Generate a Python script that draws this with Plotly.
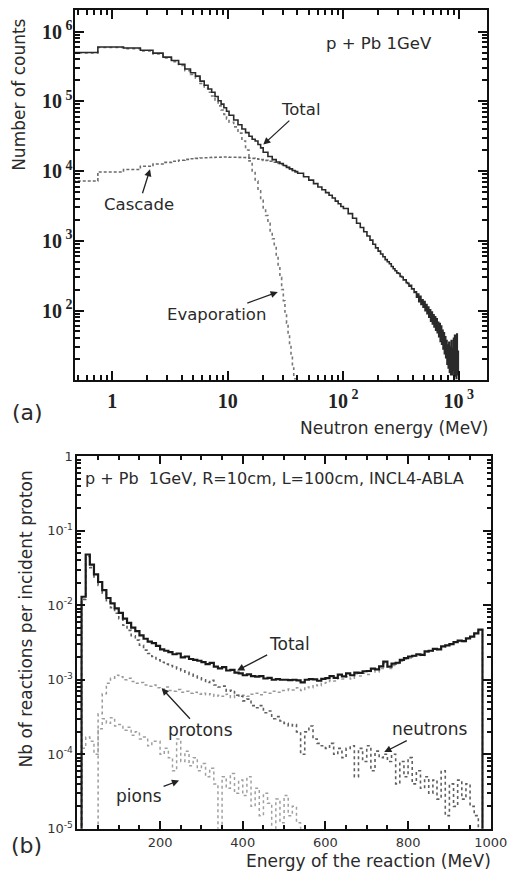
import numpy as np
import plotly.graph_objects as go

# ---------------- Panel (a): neutron energy spectrum ----------------
# histogram bin lower edges (MeV)
a_edges_total = np.concatenate([
    np.arange(0.25, 10.0, 0.5), np.arange(10.25, 20.0, 1.0), np.arange(20.25, 40.0, 2.0),
    np.arange(40.25, 100.0, 5.0), np.arange(100.25, 300.0, 10.0), np.arange(300.25, 1000.0, 10.0)])
a_last_total = 1000.25
a_total = [
    5.0e5, 6.0e5, 5.8e5, 5.4e5, 4.9e5, 4.3e5, 3.85e5, 3.4e5, 2.9e5, 2.57e5,
    2.3e5, 1.95e5, 1.7e5, 1.5e5, 1.35e5, 1.17e5, 1.02e5, 9.1e4, 8.1e4, 7.2e4,
    6.3e4, 5.4e4, 4.6e4, 4.0e4, 3.55e4, 3.16e4, 2.85e4, 2.7e4, 2.4e4, 2.15e4,
    1.86e4, 1.62e4, 1.46e4, 1.35e4, 1.28e4, 1.2e4, 1.13e4, 1.075e4, 1.02e4, 9.8e3,
    9.3e3, 8.3e3, 7.4e3, 6.6e3, 5.9e3, 5.4e3, 4.9e3, 4.5e3, 4.1e3, 3.7e3, 3.4e3, 3.1e3,
    2.9e3, 2.45e3, 2.1e3, 1.78e3, 1.55e3, 1.35e3, 1.17e3, 1.02e3, 890, 790,
    710, 645, 590, 537, 500, 468, 427, 398, 372, 347,
    339, 309, 302, 275, 275, 251, 245, 224, 229, 204,
    204, 182, 186, 155, 172, 134, 160, 122, 143, 112,
    134, 99, 122, 90, 112, 80, 102, 70, 95, 64,
    87, 58, 81, 52, 76, 48, 68, 42, 65, 36,
    60, 33, 52, 28, 48, 24, 42, 21, 37, 17,
    32, 15, 35, 13, 30, 12, 37, 12, 28, 14,
    40, 11.5, 44, 13, 34, 10.5, 46, 15, 26, 12]

a_edges_casc = np.concatenate([np.arange(0.25, 10.0, 0.5), np.arange(10.25, 20.0, 1.0),
                               np.arange(20.25, 40.0, 2.0)])
a_last_casc = 40.25
a_cascade = [
    7.2e3, 9.7e3, 1.05e4, 1.17e4, 1.26e4, 1.33e4, 1.38e4, 1.43e4, 1.47e4, 1.5e4,
    1.52e4, 1.54e4, 1.55e4, 1.56e4, 1.57e4, 1.58e4, 1.58e4, 1.59e4, 1.59e4, 1.59e4,
    1.58e4, 1.58e4, 1.57e4, 1.56e4, 1.55e4, 1.53e4, 1.52e4, 1.5e4, 1.48e4, 1.46e4,
    1.42e4, 1.38e4, 1.34e4, 1.29e4, 1.24e4, 1.18e4, 1.12e4, 1.07e4, 1.02e4, 9.8e3]

a_edges_evap = np.concatenate([np.arange(0.25, 10.0, 0.5), np.arange(10.25, 40.0, 1.0)])
a_last_evap = 40.25
a_evaporation = [
    4.93e5, 5.9e5, 5.7e5, 5.28e5, 4.77e5, 4.17e5, 3.71e5, 3.26e5, 2.75e5, 2.42e5,
    2.15e5, 1.8e5, 1.55e5, 1.35e5, 1.19e5, 1.01e5, 8.6e4, 7.5e4, 6.5e4, 5.6e4,
    5.0e4, 4.3e4, 3.5e4, 2.7e4, 2.0e4, 1.4e4, 1.0e4, 7.2e3, 5.2e3, 3.8e3,
    2.95e3, 2.3e3, 1.78e3, 1.38e3, 1.07e3, 830, 600, 430, 300, 200,
    138, 95, 66, 46, 32, 22, 15, 10.5, 7, 5]

a_xticks = [1, 10, 100, 1000]
a_xticktext = ["<b>1</b>", "<b>10</b>", "<b>10<sup> 2</sup></b>", "<b>10<sup> 3</sup></b>"]
a_yticks = [1e2, 1e3, 1e4, 1e5, 1e6]
a_yticktext = ["<b>10<sup> 2</sup></b>", "<b>10<sup> 3</sup></b>", "<b>10<sup> 4</sup></b>",
               "<b>10<sup> 5</sup></b>", "<b>10<sup> 6</sup></b>"]

# ---------------- Panel (b): reactions per incident proton ----------------
b_edges = list(range(0, 1000, 10))
b_last = 1000
b_total = [
    1e-7, 1.3e-2, 4.8e-2, 3.5e-2, 2.6e-2, 2.05e-2, 1.6e-2, 1.25e-2, 1.06e-2, 9.1e-3,
    7.9e-3, 6.6e-3, 5.8e-3, 5.0e-3, 4.5e-3, 3.95e-3, 3.55e-3, 3.25e-3, 3.1e-3, 2.85e-3,
    2.55e-3, 2.45e-3, 2.35e-3, 2.2e-3, 2.25e-3, 2.0e-3, 2.05e-3, 1.9e-3, 1.85e-3, 1.8e-3,
    1.72e-3, 1.62e-3, 1.68e-3, 1.5e-3, 1.42e-3, 1.48e-3, 1.33e-3, 1.36e-3, 1.25e-3, 1.22e-3,
    1.15e-3, 1.18e-3, 1.12e-3, 1.1e-3, 1.12e-3, 1.04e-3, 1.06e-3, 1.0e-3, 1.02e-3, 1.0e-3,
    1.0e-3, 0.99e-3, 1.0e-3, 0.98e-3, 0.92e-3, 1.0e-3, 1.02e-3, 1.01e-3, 0.97e-3, 1.03e-3,
    1.05e-3, 1.12e-3, 1.06e-3, 1.17e-3, 1.11e-3, 1.22e-3, 1.15e-3, 1.25e-3, 1.24e-3, 1.3e-3,
    1.31e-3, 1.41e-3, 1.38e-3, 1.51e-3, 1.75e-3, 1.5e-3, 1.65e-3, 1.69e-3, 1.85e-3, 1.95e-3,
    2.05e-3, 2.1e-3, 2.2e-3, 2.16e-3, 2.4e-3, 2.45e-3, 2.6e-3, 2.55e-3, 2.8e-3, 2.9e-3,
    3.0e-3, 3.2e-3, 3.35e-3, 3.3e-3, 3.6e-3, 3.8e-3, 4.2e-3, 4.7e-3, 1e-7, 1e-7]
b_neutrons = [
    1e-7, 1.2e-2, 4.5e-2, 3.2e-2, 2.4e-2, 1.85e-2, 1.45e-2, 1.12e-2, 9.3e-3, 7.8e-3,
    6.6e-3, 5.4e-3, 4.6e-3, 3.9e-3, 3.4e-3, 2.9e-3, 2.5e-3, 2.25e-3, 2.05e-3, 1.85e-3,
    1.72e-3, 1.62e-3, 1.55e-3, 1.48e-3, 1.4e-3, 1.32e-3, 1.26e-3, 1.18e-3, 1.12e-3, 1.06e-3,
    1.0e-3, 9.2e-4, 9.8e-4, 8.5e-4, 8.0e-4, 8.2e-4, 7.0e-4, 7.2e-4, 6.2e-4, 6.0e-4,
    5.2e-4, 5.5e-4, 4.5e-4, 4.2e-4, 4.5e-4, 3.6e-4, 3.8e-4, 3.0e-4, 3.2e-4, 2.8e-4,
    2.6e-4, 2.4e-4, 2.5e-4, 2.0e-4, 1.0e-4, 2.0e-4, 2.4e-4, 1.6e-4, 1.4e-4, 1.3e-4,
    1.2e-4, 1.4e-4, 1.0e-4, 1.2e-4, 9.0e-5, 1.2e-4, 1.3e-4, 5.0e-5, 1.2e-4, 8.0e-5,
    1.3e-4, 6.0e-5, 1.1e-4, 9.0e-5, 1.0e-4, 8.0e-5, 1.0e-4, 4.0e-5, 8.0e-5, 5.0e-5,
    9.0e-5, 4.0e-5, 6.0e-5, 3.5e-5, 5.0e-5, 3.0e-5, 4.5e-5, 2.5e-5, 6.0e-5, 1.5e-5,
    4.0e-5, 2.0e-5, 4.5e-5, 2.5e-5, 4.0e-5, 2.0e-5, 1.5e-5, 8.0e-6, 1e-7, 1e-7]
b_protons = [
    1e-7, 1e-7, 1e-7, 1e-7, 1e-7, 3.5e-4, 6.5e-4, 9.0e-4, 1.05e-3, 1.15e-3,
    1.1e-3, 1.0e-3, 1.05e-3, 9.5e-4, 9.0e-4, 9.2e-4, 8.5e-4, 8.2e-4, 8.5e-4, 7.8e-4,
    7.5e-4, 8.0e-4, 7.2e-4, 7.0e-4, 7.4e-4, 6.8e-4, 7.0e-4, 6.6e-4, 6.8e-4, 6.4e-4,
    6.6e-4, 6.3e-4, 6.5e-4, 6.0e-4, 6.2e-4, 6.0e-4, 6.4e-4, 5.8e-4, 6.2e-4, 6.0e-4,
    6.2e-4, 6.0e-4, 6.4e-4, 6.6e-4, 6.3e-4, 6.8e-4, 6.6e-4, 7.0e-4, 6.8e-4, 7.2e-4,
    7.2e-4, 7.5e-4, 7.3e-4, 7.8e-4, 7.2e-4, 8.0e-4, 7.8e-4, 8.5e-4, 8.3e-4, 9.0e-4,
    9.2e-4, 9.8e-4, 9.6e-4, 1.05e-3, 1.02e-3, 1.1e-3, 1.02e-3, 1.2e-3, 1.12e-3, 1.22e-3,
    1.18e-3, 1.35e-3, 1.27e-3, 1.42e-3, 1.65e-3, 1.42e-3, 1.55e-3, 1.65e-3, 1.77e-3, 1.9e-3,
    1.96e-3, 2.06e-3, 2.14e-3, 2.12e-3, 2.35e-3, 2.42e-3, 2.55e-3, 2.52e-3, 2.74e-3, 2.88e-3,
    2.96e-3, 3.18e-3, 3.3e-3, 3.27e-3, 3.56e-3, 3.78e-3, 4.18e-3, 4.69e-3, 1e-7, 1e-7]
b_pions = [
    1e-7, 1.2e-4, 1.7e-4, 1.5e-4, 1.0e-4, 2.2e-4, 3.0e-4, 2.6e-4, 3.1e-4, 2.4e-4,
    2.5e-4, 2.1e-4, 2.3e-4, 1.8e-4, 2.0e-4, 1.6e-4, 1.7e-4, 1.3e-4, 1.5e-4, 1.5e-4,
    1.0e-4, 1.2e-4, 9.0e-5, 6.0e-5, 1.6e-4, 8.0e-5, 1.1e-4, 7.0e-5, 9.0e-5, 6.0e-5,
    7.5e-5, 5.0e-5, 6.5e-5, 4.0e-5, 8.0e-6, 5.0e-5, 3.5e-5, 5.5e-5, 3.0e-5, 4.5e-5,
    2.8e-5, 5.0e-5, 2.0e-5, 3.5e-5, 1.5e-5, 3.0e-5, 2.2e-5, 8.0e-6, 2.5e-5, 1.2e-5,
    2.8e-5, 1.5e-5, 2.0e-5, 1.2e-5, 5.0e-6]
b_pion_last = 550

b_xticks = [200, 400, 600, 800, 1000]
b_yticks = [1e-5, 1e-4, 1e-3, 1e-2, 1e-1, 1]
b_yticktext = ["10<sup>-5</sup>", "10<sup>-4</sup>", "10<sup>-3</sup>", "10<sup>-2</sup>",
               "10<sup>-1</sup>", "1"]

W, H = 530, 881


def steps(edges, last, vals):
    x = list(edges) + [last]
    y = list(vals) + [vals[-1]]
    return x, y


fig = go.Figure()

# panel a traces
x, y = steps(a_edges_casc, a_last_casc, a_cascade)
fig.add_trace(go.Scatter(x=x, y=y, mode="lines", line_shape="hv",
                         line=dict(color="#6a6a6a", width=1.6, dash="3px,2px"),
                         xaxis="x", yaxis="y", showlegend=False))
x, y = steps(a_edges_evap, a_last_evap, a_evaporation)
fig.add_trace(go.Scatter(x=x, y=y, mode="lines", line_shape="hv",
                         line=dict(color="#777777", width=1.6, dash="dot"),
                         xaxis="x", yaxis="y", showlegend=False))
x, y = steps(a_edges_total, a_last_total, a_total)
fig.add_trace(go.Scatter(x=x, y=y, mode="lines", line_shape="hv",
                         line=dict(color="#2a2a2a", width=1.6),
                         xaxis="x", yaxis="y", showlegend=False))

# panel b traces
x, y = steps(b_edges[:len(b_pions)], b_pion_last, b_pions)
fig.add_trace(go.Scatter(x=x, y=y, mode="lines", line_shape="hv",
                         line=dict(color="#a0a0a0", width=1.5, dash="dot"),
                         xaxis="x2", yaxis="y2", showlegend=False))
x, y = steps(b_edges, b_last, b_protons)
fig.add_trace(go.Scatter(x=x, y=y, mode="lines", line_shape="hv",
                         line=dict(color="#999999", width=1.5, dash="dot"),
                         xaxis="x2", yaxis="y2", showlegend=False))
x, y = steps(b_edges, b_last, b_neutrons)
fig.add_trace(go.Scatter(x=x, y=y, mode="lines", line_shape="hv",
                         line=dict(color="#606060", width=1.6, dash="dot"),
                         xaxis="x2", yaxis="y2", showlegend=False))
x, y = steps(b_edges, b_last, b_total)
fig.add_trace(go.Scatter(x=x, y=y, mode="lines", line_shape="hv",
                         line=dict(color="#1a1a1a", width=2.2),
                         xaxis="x2", yaxis="y2", showlegend=False))

a_xminor = [m * 10 ** k for k in range(-1, 4) for m in range(2, 10)]
a_yminor = [m * 10 ** k for k in range(1, 7) for m in range(2, 10)]
b_yminor = [m * 10.0 ** k for k in range(-5, 0) for m in range(2, 10)]

axis_common = dict(showline=True, linewidth=2, linecolor="#111", mirror="allticks",
                   ticks="inside", tickcolor="#111", tickwidth=1.5, showgrid=False,
                   zeroline=False)

serif = dict(family="Liberation Serif", size=20, color="#222")
sans = "DejaVu Sans"
tick_sans = dict(family=sans, size=13, color="#333")

fig.update_layout(
    width=W, height=H, margin=dict(l=0, r=0, t=0, b=0),
    paper_bgcolor="white", plot_bgcolor="white",
    xaxis=dict(domain=[77 / W, 503 / W], anchor="y", type="log", range=[-0.327, 3.243],
               tickmode="array", tickvals=a_xticks, ticktext=a_xticktext, ticklen=9,
               tickfont=serif, ticklabelstandoff=2,
               minor=dict(ticks="inside", ticklen=5, tickcolor="#111", tickvals=a_xminor),
               **axis_common),
    yaxis=dict(domain=[1 - 379 / H, 1 - 3 / H], anchor="x", type="log", range=[1.01, 6.31],
               tickmode="array", tickvals=a_yticks, ticktext=a_yticktext, ticklen=9,
               tickfont=serif, ticklabelstandoff=-4,
               minor=dict(ticks="inside", ticklen=5, tickcolor="#111", tickvals=a_yminor),
               **axis_common),
    xaxis2=dict(domain=[80 / W, 507 / W], anchor="y2", range=[0, 1000],
                tickmode="array", tickvals=b_xticks, ticklen=8,
                tickfont=tick_sans, ticklabelstandoff=1,
                minor=dict(ticks="inside", ticklen=4, tickcolor="#111", dtick=50),
                **axis_common),
    yaxis2=dict(domain=[1 - 836 / H, 1 - 457 / H], anchor="x2", type="log", range=[-5, 0],
                tickmode="array", tickvals=b_yticks, ticktext=b_yticktext, ticklen=8,
                tickfont=tick_sans, ticklabelstandoff=0,
                minor=dict(ticks="inside", ticklen=4, tickcolor="#111", tickvals=b_yminor),
                **axis_common),
)


def px(xp, yp):
    return xp / W, 1 - yp / H


def label(text, xp, yp, size=17, angle=0):
    xx, yy = px(xp, yp)
    fig.add_annotation(text=text, x=xx, y=yy, xref="paper", yref="paper", showarrow=False,
                       textangle=angle, xanchor="center", yanchor="middle",
                       font=dict(family=sans, size=size, color="#2a2a2a"))


def arrow_label(text, xp, yp, hx, hy, size=16.5):
    xx, yy = px(hx, hy)
    fig.add_annotation(text=text, x=xx, y=yy, xref="paper", yref="paper", showarrow=True,
                       ax=xp - hx, ay=yp - hy, axref="pixel", ayref="pixel",
                       arrowhead=2, arrowsize=1.1, arrowwidth=1.3, arrowcolor="#222",
                       font=dict(family=sans, size=size, color="#2a2a2a"))


# panel a texts
label("Number of counts", 20, 89, size=17, angle=-90)
label("Neutron energy (MeV)", 407, 428, size=17)
label("(a)", 28, 413, size=22)
label("p + Pb 1GeV", 392, 37, size=16.5)
arrow_label("Total", 310, 105, 272, 140)
arrow_label("Cascade", 144, 200, 155, 165)
arrow_label("Evaporation", 226, 312, 287, 290)

# panel b texts
label("Nb of reactions per incident proton", 27, 623, size=17, angle=-90)
label("Energy of the reaction (MeV)", 381, 869, size=17)
label("(b)", 27, 853, size=22)
label("p + Pb  1GeV, R=10cm, L=100cm, INCL4-ABLA", 284, 480, size=16)
arrow_label("Total", 297, 648, 245, 675, size=17)
arrow_label("protons", 206, 735, 167, 693, size=17)
arrow_label("neutrons", 442, 735, 397, 758, size=17)
arrow_label("pions", 145, 802, 185, 787, size=17)

fig.write_html("out.html")
